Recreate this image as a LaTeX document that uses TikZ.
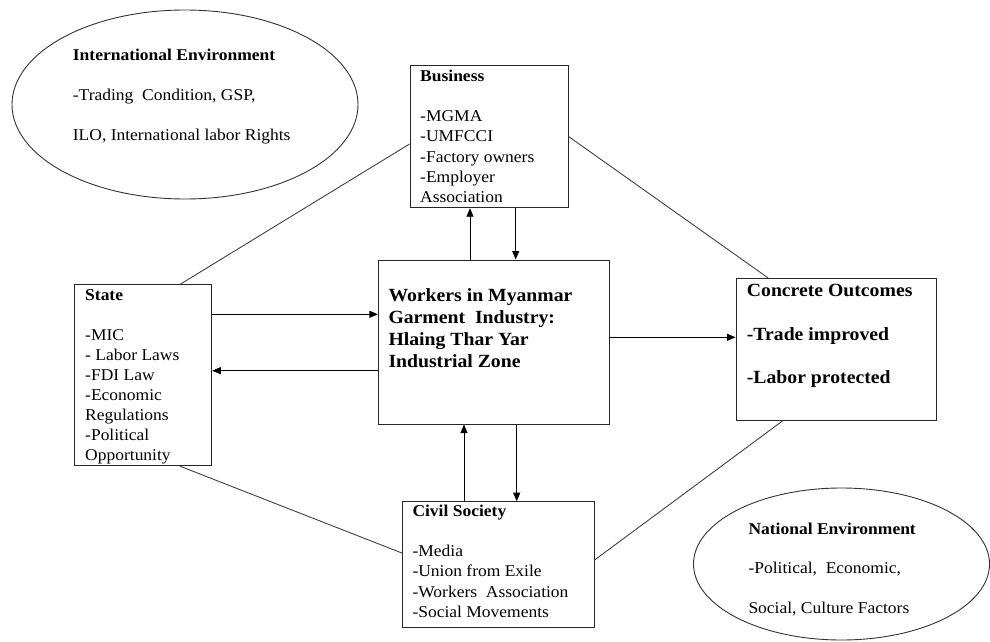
\documentclass[tikz,border=0pt]{standalone}
\usepackage{fontspec}
\setmainfont{Liberation Serif}[FakeStretch=1.06]
\usetikzlibrary{arrows.meta,shapes.geometric}
\begin{document}
\begin{tikzpicture}[x=1pt,y=-1pt,
  box/.style={draw=black!85, line width=1pt, inner sep=0pt, rectangle},
  env/.style={draw=black!80, line width=0.9pt, inner sep=0pt, ellipse},
  txt/.style={anchor=base west, inner sep=0pt},
  conn/.style={draw=black!75, line width=0.9pt},
  arr/.style={draw=black, line width=0.9pt, -{Triangle[length=8.5pt,width=7pt]}}]
\useasboundingbox (0,0) rectangle (990,642);

% ellipses
\node[env, minimum width=346pt, minimum height=189pt] (intl) at (185,104.5) {};
\node[env, minimum width=296pt, minimum height=152pt] (natl) at (841.5,564) {};

% boxes
\node[box, minimum width=158.3pt, minimum height=142pt] (business) at (489.2,136.7) {};
\node[box, minimum width=137.7pt, minimum height=180.7pt] (state) at (142.9,375.3) {};
\node[box, minimum width=230.7pt, minimum height=164pt] (center) at (493.7,342) {};
\node[box, minimum width=200.7pt, minimum height=141.7pt] (concrete) at (836.4,349.2) {};
\node[box, minimum width=191.7pt, minimum height=125.6pt] (civil) at (498.2,564.5) {};

% texts
\node[txt] (intltxt) at (72.7,61) {\parbox[t]{300pt}{\raggedright\fontsize{16.5}{39.5}\selectfont
  \textbf{International Environment}\\-Trading\ \ Condition, GSP,\\ILO, International labor Rights}};
\node[txt] (natltxt) at (748.3,534) {\parbox[t]{240pt}{\raggedright\fontsize{16.5}{39.6}\selectfont
  \textbf{National Environment}\\-Political,\ \ Economic,\\Social, Culture Factors}};
\node[txt] (businesstxt) at (420,81.7) {\parbox[t]{150pt}{\raggedright\fontsize{16.5}{20.1}\selectfont
  \textbf{Business}\\[20pt]-MGMA\\-UMFCCI\\-Factory owners\\-Employer\\Association}};
\node[txt] (statetxt) at (85,300) {\parbox[t]{130pt}{\raggedright\fontsize{16.5}{20.1}\selectfont
  \textbf{State}\\[20pt]-MIC\\- Labor Laws\\-FDI Law\\-Economic\\Regulations\\-Political\\Opportunity}};
\node[txt] (centertxt) at (388.3,301.7) {\parbox[t]{220pt}{\raggedright\fontsize{18.6}{21.9}\selectfont\bfseries
  Workers in Myanmar\\Garment\ \ Industry:\\Hlaing Thar Yar\\Industrial Zone}};
\node[txt] (concretetxt) at (746.7,296.7) {\parbox[t]{200pt}{\raggedright\fontsize{18.6}{43.3}\selectfont\bfseries
  Concrete Outcomes\\-Trade improved\\-Labor protected}};
\node[txt] (civiltxt) at (412.3,516.7) {\parbox[t]{185pt}{\raggedright\fontsize{16.5}{20.1}\selectfont
  \textbf{Civil Society}\\[20pt]-Media\\-Union from Exile\\-Workers\ \ Association\\-Social Movements}};

% plain connectors
\draw[conn] ([xshift=37pt]state.north) -- ([yshift=-7.3pt]business.west);
\draw[conn] (business.east) -- ([xshift=-68.4pt]concrete.north);
\draw[conn] ([xshift=37pt]state.south) -- ([yshift=11.5pt]civil.west);
\draw[conn] ([yshift=4.5pt]civil.east) -- ([xshift=-53.4pt]concrete.south);

% arrows
\draw[arr] ([xshift=-23.7pt]center.north) -- ([xshift=-23.7pt]center.north |- business.south);
\draw[arr] ([xshift=22pt]center.north |- business.south) -- ([xshift=22pt]center.north);
\draw[arr] ([xshift=-29.7pt]center.south |- civil.north) -- ([xshift=-29.7pt]center.south);
\draw[arr] ([xshift=23pt]center.south) -- ([xshift=23pt]center.south |- civil.north);
\draw[arr] ([yshift=61pt]state.east) -- ([yshift=61pt]state.east -| center.west);
\draw[arr] ([yshift=4.6pt]state.east -| center.west) -- ([yshift=4.6pt]state.east);
\draw[arr] ([yshift=4.7pt]center.east) -- ([yshift=4.7pt]center.east -| concrete.west);
\end{tikzpicture}
\end{document}
